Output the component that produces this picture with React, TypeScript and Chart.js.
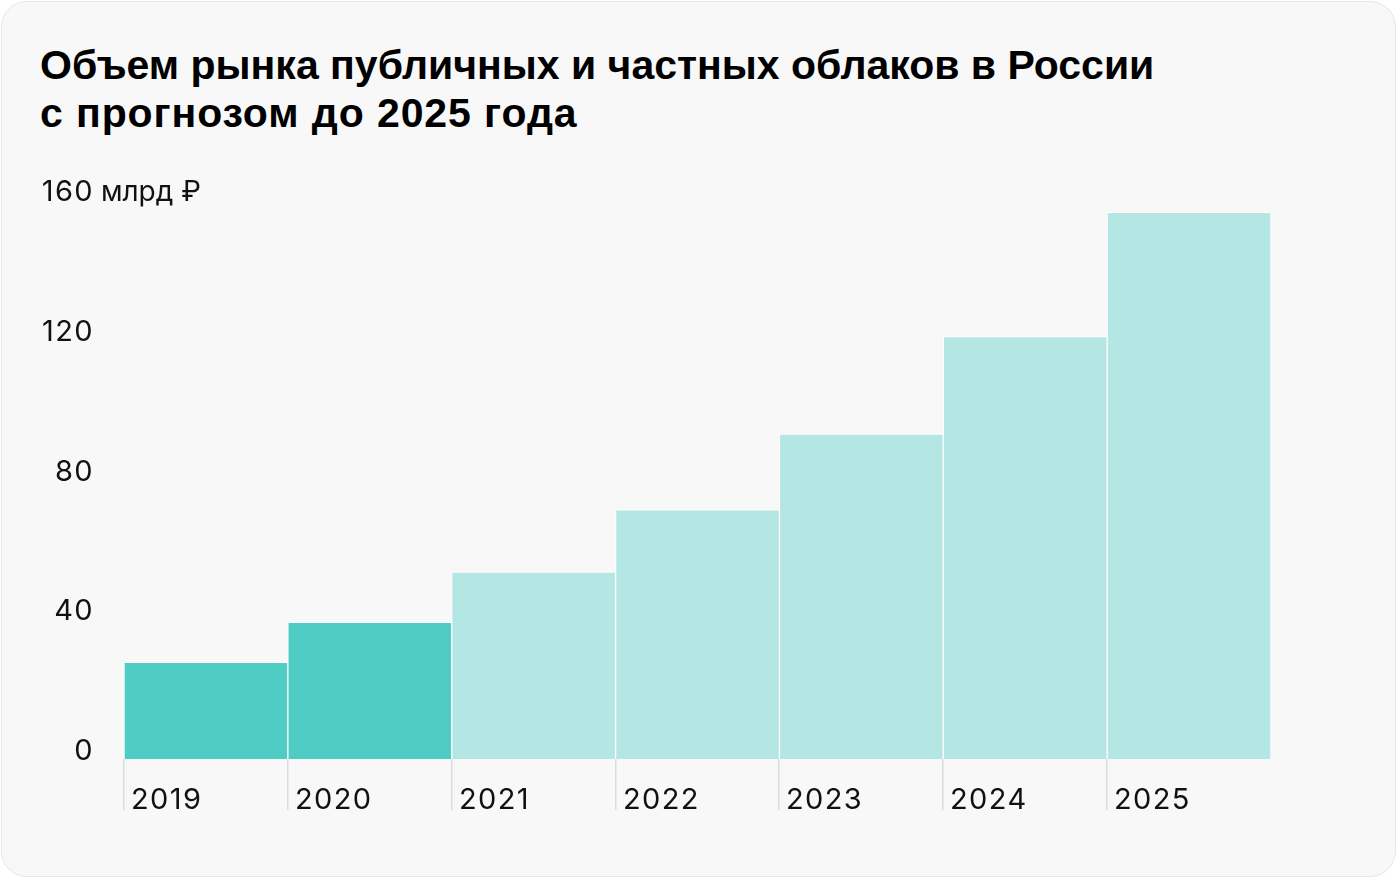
import React, { useEffect, useRef } from "react";
import { Chart, registerables } from "chart.js";

Chart.register(...registerables);

const titleLines = [
  "Объем рынка публичных и частных облаков в России",
  "с прогнозом до 2025 года",
];
const years = ["2019", "2020", "2021", "2022", "2023", "2024", "2025"];
const marketValues = [27.7, 39.1, 53.5, 71.3, 93.0, 120.9, 156.5];
const barColors = ["#4fcdc4", "#4fcdc4", "#b4e6e3", "#b4e6e3", "#b4e6e3", "#b4e6e3", "#b4e6e3"];
const yTickValues = [0, 40, 80, 120, 160];
const yUnitSuffix = " млрд ₽";

const LABEL_FONT = '29px Inter, "Noto Sans", sans-serif';
const SUFFIX_FONT = '28px Inter, "Noto Sans", sans-serif';

const axisPlugin = {
  id: "customAxes",
  afterDraw(chart: any) {
    const ctx = chart.ctx;
    const xs = chart.scales.x;
    const ys = chart.scales.y;
    const area = chart.chartArea;
    ctx.save();
    ctx.font = LABEL_FONT;
    const setSpacing = (s: string) => {
      try {
        (ctx as any).letterSpacing = s;
      } catch (e) {}
    };
    setSpacing("1.4px");
    ctx.fillStyle = "#111111";
    ctx.textBaseline = "alphabetic";
    const rightX = 94;
    yTickValues.forEach((v, i) => {
      const y = ys.getPixelForValue(v) + 1;
      const num = String(v);
      ctx.font = LABEL_FONT;
      setSpacing("1.4px");
      const w = ctx.measureText(num).width;
      ctx.textAlign = "left";
      ctx.fillText(num, rightX - w, y);
      if (i === yTickValues.length - 1) {
        ctx.font = SUFFIX_FONT;
        setSpacing("0px");
        ctx.fillText(yUnitSuffix, rightX - 1, y);
      }
    });
    ctx.font = LABEL_FONT;
    setSpacing("1.4px");
    const n = years.length;
    const catW = (area.right - area.left) / n;
    years.forEach((yr, i) => {
      const cx = xs.getPixelForValue(i);
      const left = Math.round(cx - catW / 2);
      ctx.strokeStyle = "#dcdcdc";
      ctx.lineWidth = 1.5;
      ctx.beginPath();
      ctx.moveTo(left - 0.25, area.bottom);
      ctx.lineTo(left - 0.25, area.bottom + 51);
      ctx.stroke();
      ctx.textAlign = "left";
      ctx.fillStyle = "#111111";
      ctx.fillText(yr, left + 7, area.bottom + 50);
    });
    ctx.restore();
  },
};

export default function App() {
  const canvasRef = useRef<HTMLCanvasElement | null>(null);

  useEffect(() => {
    if (!canvasRef.current) return;
    const chart = new Chart(canvasRef.current, {
      type: "bar",
      data: {
        labels: years,
        datasets: [
          {
            data: marketValues,
            backgroundColor: barColors,
            borderColor: "#ffffff",
            borderWidth: 1,
            categoryPercentage: 1,
            barPercentage: 1,
          },
        ],
      },
      options: {
        responsive: false,
        animation: false,
        devicePixelRatio: 1,
        layout: { padding: { left: 124, right: 129, top: 200, bottom: 121 } },
        plugins: { legend: { display: false }, tooltip: { enabled: false }, title: { display: false } },
        scales: {
          x: { display: false },
          y: { display: false, min: 0, max: 160 },
        },
      },
      plugins: [axisPlugin],
    });
    return () => chart.destroy();
  }, []);

  return (
    <div style={{ position: "fixed", left: 0, top: 0, width: 1400, height: 880, background: "#ffffff" }}>
      <div
        style={{
          position: "absolute",
          left: 1,
          top: 1,
          width: 1395,
          height: 876,
          border: "1px solid #e6e6e6",
          borderRadius: 26,
          background: "#f8f8f8",
          boxSizing: "border-box",
        }}
      />
      <div
        style={{
          position: "absolute",
          left: 40,
          top: 41,
          fontFamily: '"Liberation Sans", Arial, sans-serif',
          fontWeight: 700,
          fontSize: 41,
          lineHeight: "48px",
          color: "#000000",
          whiteSpace: "nowrap",
        }}
      >
        <div>{titleLines[0]}</div>
        <div style={{ letterSpacing: "0.9px" }}>{titleLines[1]}</div>
      </div>
      <canvas
        ref={canvasRef}
        width={1400}
        height={880}
        style={{ position: "absolute", left: 0, top: 0, width: 1400, height: 880 }}
      />
    </div>
  );
}
